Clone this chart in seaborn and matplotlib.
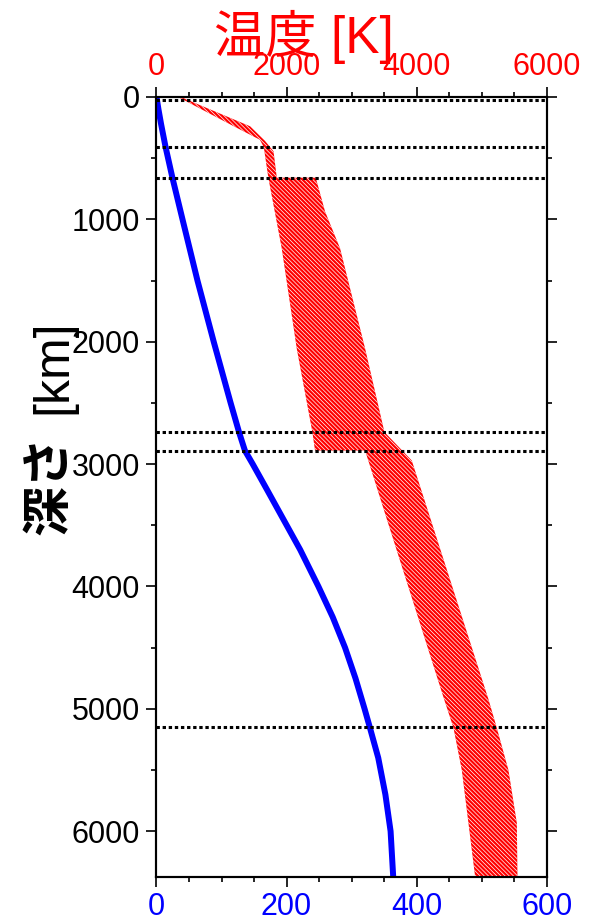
import numpy as np
import matplotlib
matplotlib.use('Agg')
import matplotlib.pyplot as plt
from matplotlib.ticker import MultipleLocator
import seaborn as sns

# 圧力 (GPa) vs 深さ (km)
depth_p = [0, 100, 220, 410, 660, 1000, 1500, 2000, 2500, 2740, 2890,
           3000, 3200, 3450, 3700, 4000, 4250, 4500, 4750, 5000, 5150,
           5400, 5700, 6000, 6371]
pressure = [0, 3, 7, 14, 24.5, 40, 63, 88, 114, 127, 136,
            148, 169, 195, 221, 249, 271, 290, 306, 320, 328,
            341, 352, 360, 364]

# 温度の幅 (K): 低温側と高温側
depth_low = [0, 240, 350, 410, 660, 1237, 2056, 2738, 2889, 2889, 3448,
             4922, 5155, 5500, 5932, 6371]
temp_low = [330, 1190, 1590, 1650, 1720, 1926, 2157, 2397, 2438, 3208, 3541,
            4423, 4567, 4695, 4797, 4900]
depth_high = [0, 240, 360, 445, 660, 660, 936, 1237, 2056, 2738, 2971,
              4922, 5155, 5500, 5932, 6371]
temp_high = [370, 1440, 1670, 1800, 1850, 2449, 2592, 2823, 3208, 3505, 3926,
             5105, 5233, 5412, 5541, 5551]

# 境界 (km)
boundaries = [25, 410, 660, 2740, 2890, 5150]


def main():
    sns.set_style('ticks')
    plt.rcParams['font.family'] = ['Liberation Sans', 'Noto Sans CJK JP', 'DejaVu Sans']
    plt.rcParams['hatch.linewidth'] = 0.5
    for k in ('text.color', 'xtick.color', 'ytick.color', 'axes.edgecolor',
              'xtick.labelcolor', 'ytick.labelcolor'):
        plt.rcParams[k] = 'black'

    fig = plt.figure(figsize=(6.07, 9.17), dpi=100)
    ax = fig.add_axes([0.2578, 0.0440, 0.6428, 0.8503])
    ax2 = ax.twiny()

    # 圧力
    sns.lineplot(x=pressure, y=depth_p, ax=ax, color='#0000ff', lw=4.3,
                 sort=False, orient='y', estimator=None)

    # 温度の幅
    poly_t = np.concatenate([temp_low, temp_high[::-1]])
    poly_d = np.concatenate([depth_low, depth_high[::-1]])
    ax2.fill(poly_t, poly_d, facecolor='#ff0000', edgecolor='white',
             hatch='\\\\\\\\\\\\\\\\', linewidth=0, zorder=2)

    for b in boundaries:
        ax2.axhline(b, color='black', lw=2.2, linestyle=(0, (1.1, 0.9)), zorder=3)

    ax.set_xlim(0, 600)
    ax.set_ylim(6371, 0)
    ax2.set_xlim(0, 6000)

    ax.yaxis.set_major_locator(MultipleLocator(1000))
    ax.yaxis.set_minor_locator(MultipleLocator(500))
    ax.xaxis.set_major_locator(MultipleLocator(200))
    ax.xaxis.set_minor_locator(MultipleLocator(50))
    ax2.xaxis.set_major_locator(MultipleLocator(2000))
    ax2.xaxis.set_minor_locator(MultipleLocator(500))

    for a in (ax, ax2):
        for s in a.spines.values():
            s.set_linewidth(1.5)
            s.set_color('black')
        a.tick_params(which='major', direction='out', length=7, width=1.2,
                      labelsize=22, color='black')
        a.tick_params(which='minor', direction='out', length=3.5, width=1.2,
                      color='black')

    ax.tick_params(axis='y', which='both', left=True, right=True,
                   labelright=False, pad=5, labelcolor='black')
    ax.tick_params(axis='x', which='both', labelcolor='#0000ff', pad=4)
    ax2.tick_params(axis='x', which='both', labelcolor='#ff0000', pad=3.5)
    ax.set_xlabel('')
    ax.set_ylabel('')

    fig.text(0.5008, 0.9597, '温度 [K]', color='#ff0000', fontsize=37,
             ha='center', va='center')
    fig.text(0.0873, 0.5998, '[km]', rotation=90, fontsize=36,
             ha='center', va='center', color='black')
    fig.text(0.080, 0.4706, '深さ', rotation=90, fontsize=36, weight='bold',
             ha='center', va='center', color='black',
             family=['Noto Sans CJK JP'])

    fig.savefig('out.png', dpi=100)


if __name__ == '__main__':
    main()
